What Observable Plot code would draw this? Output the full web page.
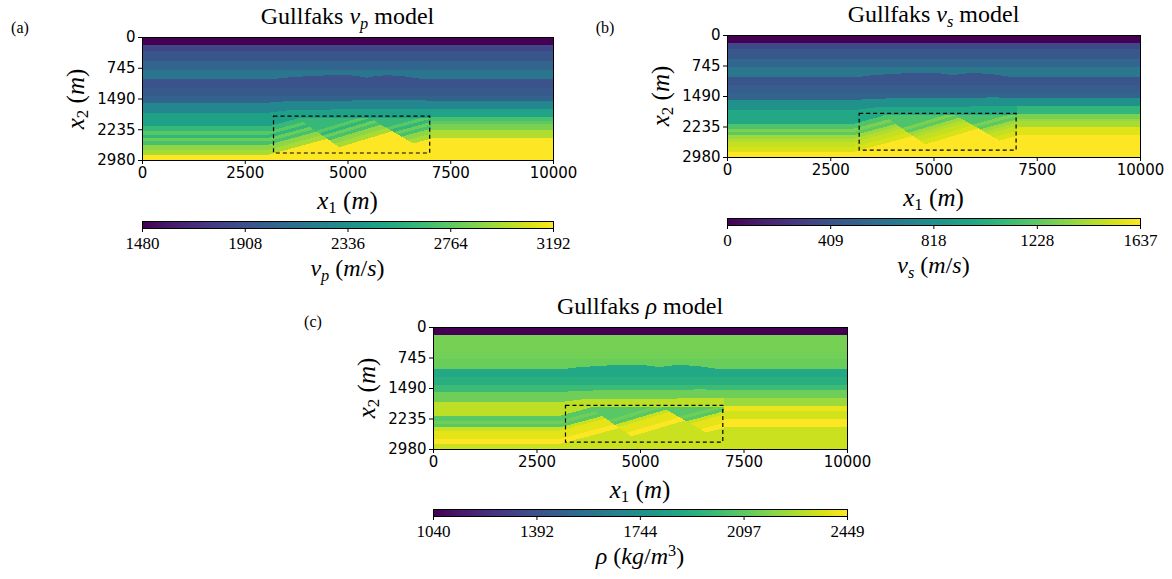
<!DOCTYPE html>
<html><head><meta charset="utf-8">
<script src="https://cdn.jsdelivr.net/npm/d3@7"></script>
<script src="https://cdn.jsdelivr.net/npm/@observablehq/plot@0.6"></script>
<style>
body{margin:0;background:#fff;}
#root{position:relative;width:1172px;height:579px;overflow:hidden;background:#fff;font-family:"Liberation Serif","Times New Roman",Times,"DejaVu Serif",serif;color:#000}
.abs{position:absolute;white-space:nowrap;line-height:1;transform:translate(-50%,-50%)}
.rot{transform:translate(-50%,-50%) rotate(-90deg)}
.title{font-size:24px}
.lab{font-size:25px}
.cbl{font-size:24px}
.pl{font-size:16px}
sub{font-size:0.68em;vertical-align:-0.28em;line-height:0}
sup{font-size:0.68em;vertical-align:0.5em;line-height:0}
svg.p{position:absolute;overflow:visible}
</style></head><body><div id="root"></div><script>
// ---------- axis ticks ----------
const xTicks = [0, 2500, 5000, 7500, 10000];
const yTicks = [0, 745, 1490, 2235, 2980];
const vpTicks = [1480, 1908, 2336, 2764, 3192];
const vsTicks = [0, 409, 818, 1228, 1637];
const rhoTicks = [1040, 1392, 1744, 2097, 2449];
const xDomain = [0, 10000];
const yDomain = [0, 2980];

// ---------- shallow layer geometry (depth in m) ----------
const flatTops = [178, 323, 565, 768];            // water / overburden sub-layers
const domeX = [0, 3200, 3300, 3700, 4200, 4700, 5000, 5300, 5450, 5650, 5950, 6400, 6850, 10000];
const domeD = [1000, 1000, 975, 945, 915, 900, 897, 935, 960, 925, 900, 935, 1000, 1000];
const lvlMidTops = [1200, 1400];
const lvlBotX = [0, 3000, 3500, 6500, 7000, 10000];
const lvlBotD = [1570, 1570, 1530, 1500, 1519, 1519];
const tBotX = [0, 3000, 3600, 7000, 10000];
const tBotD = [1818, 1818, 1740, 1713, 1713];

// values of shallow layers: water, OB1..OB4, LVL1..LVL3, T
const vpShallow  = [1480, 1840, 1925, 2030, 2150, 1908, 1959, 2011, 2268];
const vsShallow  = [0, 360, 442, 540, 650, 426, 475, 524, 819];
const rhoShallow = [1040, 2153, 2153, 2150, 2125, 1885, 1928, 1998, 2139];
// layer between T and the faulted sequence
const vpG = 2456, vsG = 982, rhoG = 2308;
const unconformityD = 1930;

// ---------- faulted (deep) sequence, reference depths on the left ----------
const deepTops = [2141, 2262, 2343, 2424, 2505, 2586, 2707, 2828];
const vpDeep  = [2627, 2747, 2610, 2798, 2696, 2901, 2969, 3192];
const vsDeep  = [1179, 1310, 1228, 1391, 1441, 1490, 1539, 1637];
const rhoDeep = [2083, 2139, 2083, 2336, 2393, 2393, 2449, 2336];

// ---------- right-hand flat sequence (x >= 7000 m) ----------
const rightX = 7000;
const rightTops = [1713, 1915, 2020, 2085, 2222, 2424];
const vpRight  = [2473, 2696, 2764, 2850, 2987, 3192];
const vsRight  = [1080, 1310, 1375, 1424, 1555, 1637];
const rhoRight = [2238, 2407, 2350, 2350, 2449, 2336];

// ---------- rotated fault blocks ----------
const blockX0 = [3050, 4800, 6610];
const blockU0 = [0, 190, 283];
const blockSlope = [0.27, 0.30, 0.27];
const faultX1 = [3700, 5450], faultD1 = [1900, 1900];
const faultX2 = [4850, 6650], faultD2 = [2700, 2600];

// dashed box
const boxes = [{x1: 3200, x2: 7000, y1: 1915, y2: 2811}];

// ---------- model evaluation ----------
function interp(xs, ds, x) {
  for (let i = 1; i < xs.length; i++) if (x <= xs[i]) {
    const t = (x - xs[i-1]) / (xs[i] - xs[i-1]);
    return ds[i-1] + t * (ds[i] - ds[i-1]);
  }
  return ds[ds.length - 1];
}
function layerIndex(tops, d) { let k = -1; for (let i = 0; i < tops.length; i++) if (d >= tops[i]) k = i; return k; }
function sample(x, d, P) {
  const b = [...flatTops, interp(domeX, domeD, x), ...lvlMidTops, interp(lvlBotX, lvlBotD, x), interp(tBotX, tBotD, x)];
  for (let i = 0; i < b.length; i++) if (d < b[i]) return P.shallow[i];
  if (x >= rightX) { const k = layerIndex(rightTops, d); return P.right[Math.max(k, 0)]; }
  if (d < unconformityD) return P.g;
  let bi = 0;
  for (let f = 0; f < faultX1.length; f++) {
    const fx = faultX1[f] + (d - faultD1[f]) * (faultX2[f] - faultX1[f]) / (faultD2[f] - faultD1[f]);
    if (x >= fx) bi = f + 1;
  }
  const u = x < blockX0[0] ? 0 : Math.max(0, blockU0[bi] + blockSlope[bi] * (x - blockX0[bi]));
  const k = layerIndex(deepTops, d + u);
  if (k < 0) return bi > 0 ? P.deep[0] : P.g;
  return P.deep[k];
}
const props = {
  vp: {shallow: vpShallow, g: vpG, deep: vpDeep, right: vpRight},
  vs: {shallow: vsShallow, g: vsG, deep: vsDeep, right: vsRight},
  rho: {shallow: rhoShallow, g: rhoG, deep: rhoDeep, right: rhoRight}
};

// ---------- layout ----------
const root = document.getElementById("root");
const serif = '"Liberation Serif","Times New Roman",Times,"DejaVu Serif",serif';
const ML = 70, MR = 40, MT = 10, MB = 32;
function addText(html, x, y, cls, rot) {
  const d = document.createElement("div");
  d.className = "abs " + cls + (rot ? " rot" : "");
  d.style.left = x + "px"; d.style.top = y + "px";
  d.innerHTML = html; root.appendChild(d);
}
function panel(cfg) {
  const W = cfg.fx2 - cfg.fx1, H = cfg.fy2 - cfg.fy1;
  const P = props[cfg.prop];
  const color = {type: "linear", scheme: "viridis", domain: [cfg.ticks[0], cfg.ticks[cfg.ticks.length-1]]};
  const main = Plot.plot({
    width: W + ML + MR, height: H + MT + MB,
    marginLeft: ML, marginRight: MR, marginTop: MT, marginBottom: MB,
    style: {fontFamily: "DejaVu Sans", fontSize: "15px", color: "black", background: "transparent"},
    x: {domain: xDomain},
    y: {domain: yDomain, reverse: true},
    color,
    marks: [
      Plot.raster({fill: (x, y) => sample(x, y, P), x1: xDomain[0], x2: xDomain[1], y1: yDomain[0], y2: yDomain[1], imageRendering: "pixelated"}),
      Plot.rect(boxes, {x1: "x1", x2: "x2", y1: "y1", y2: "y2", fill: "none", stroke: "black", strokeWidth: 1.2, strokeDasharray: "4,3"}),
      Plot.frame({stroke: "black", strokeWidth: 1}),
      Plot.axisX({ticks: xTicks, tickFormat: d => String(d), tickSize: 4, tickPadding: 3, label: null}),
      Plot.axisY({ticks: yTicks, tickFormat: d => String(d), tickSize: 4, tickPadding: 3, label: null})
    ]
  });
  main.classList.add("p");
  main.style.left = (cfg.fx1 - ML) + "px"; main.style.top = (cfg.fy1 - MT) + "px";
  root.appendChild(main);

  const BH = cfg.cb2 - cfg.cb1;
  const cb = Plot.plot({
    width: W + ML + MR, height: BH + 1 + 30,
    marginLeft: ML, marginRight: MR, marginTop: 1, marginBottom: 30,
    style: {fontFamily: serif, fontSize: "17px", color: "black", background: "transparent"},
    x: {domain: color.domain},
    y: {domain: [0, 1], axis: null},
    color,
    marks: [
      Plot.raster({fill: (x, y) => x, x1: color.domain[0], x2: color.domain[1], y1: 0, y2: 1}),
      Plot.frame({stroke: "black", strokeWidth: 1}),
      Plot.axisX({ticks: cfg.ticks, tickFormat: d => String(d), tickSize: 4, tickPadding: 4, label: null})
    ]
  });
  cb.classList.add("p");
  cb.style.left = (cfg.fx1 - ML) + "px"; cb.style.top = (cfg.cb1 - 1) + "px";
  root.appendChild(cb);

  const cx = (cfg.fx1 + cfg.fx2) / 2;
  addText(cfg.title, cx, cfg.fy1 - 21, "title");
  addText(cfg.letter, cfg.lx, cfg.ly, "pl");
  addText("<i>x</i><sub>1</sub> (<i>m</i>)", cx, cfg.fy2 + 40, "lab");
  addText("<i>x</i><sub>2</sub> (<i>m</i>)", cfg.fx1 - 67, (cfg.fy1 + cfg.fy2) / 2, "lab", true);
  addText(cfg.cblabel, cx, cfg.cb2 + 40, "cbl");
}

panel({prop: "vp", fx1: 142, fx2: 553, fy1: 37, fy2: 160, cb1: 221, cb2: 228, ticks: vpTicks,
  title: "Gullfaks <i>v<sub>p</sub></i> model", letter: "(a)", lx: 20, ly: 28,
  cblabel: "<i>v<sub>p</sub></i> (<i>m</i>/<i>s</i>)"});
panel({prop: "vs", fx1: 727, fx2: 1140, fy1: 35, fy2: 157, cb1: 218, cb2: 225, ticks: vsTicks,
  title: "Gullfaks <i>v<sub>s</sub></i> model", letter: "(b)", lx: 605, ly: 28,
  cblabel: "<i>v<sub>s</sub></i> (<i>m</i>/<i>s</i>)"});
panel({prop: "rho", fx1: 433, fx2: 847, fy1: 327, fy2: 449, cb1: 509, cb2: 516, ticks: rhoTicks,
  title: "Gullfaks <i>ρ</i> model", letter: "(c)", lx: 313, ly: 322,
  cblabel: "<i>ρ</i> (<i>kg</i>/<i>m</i><sup>3</sup>)"});
</script></body></html>
